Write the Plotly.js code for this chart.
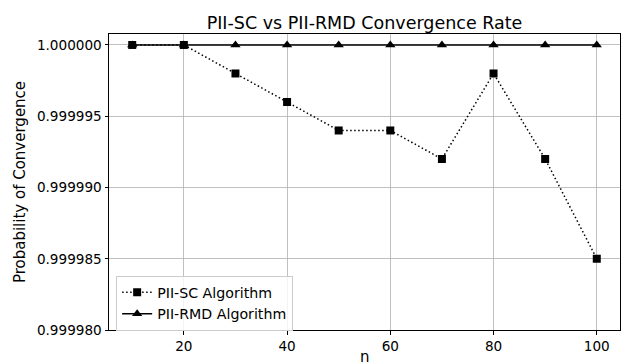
<!DOCTYPE html>
<html><head><meta charset="utf-8">
<script src="https://cdn.plot.ly/plotly-3.0.1.min.js"></script>
<style>html,body{margin:0;padding:0;background:#fff}#chart{width:623px;height:362px}</style>
</head><body><div id="chart"></div>
<script>
const nValues = [10, 20, 30, 40, 50, 60, 70, 80, 90, 100];
const sc = [1.000000, 1.000000, 0.999998, 0.999996, 0.999994, 0.999994, 0.999992, 0.999998, 0.999992, 0.999985];
const rmd = [1.000000, 1.000000, 1.000000, 1.000000, 1.000000, 1.000000, 1.000000, 1.000000, 1.000000, 1.000000];
const xTicks = [20, 40, 60, 80, 100];
const yTicks = [0.99998, 0.999985, 0.99999, 0.999995, 1.0];

const font = 'DejaVu Sans, sans-serif';
const traces = [
  {x: nValues, y: sc, name: 'PII-SC Algorithm', mode: 'lines+markers', type: 'scatter',
   line: {color: '#000', width: 1.5, dash: '1.5px,2.5px'},
   marker: {symbol: 'square', size: 8, color: '#000'}},
  {x: nValues, y: rmd, name: 'PII-RMD Algorithm', mode: 'lines+markers', type: 'scatter',
   line: {color: '#000', width: 1.5},
   marker: {symbol: 'triangle-up', size: 9, color: '#000'}}
];
const layout = {
  width: 623, height: 362,
  margin: {l: 109, r: 3, t: 34, b: 32},
  paper_bgcolor: '#fff', plot_bgcolor: '#fff',
  font: {family: font, color: '#000', size: 13.6},
  title: {text: 'PII-SC vs PII-RMD Convergence Rate', font: {family: font, size: 17.5, color: '#000'},
          x: 0.5, xref: 'paper', xanchor: 'center', y: 1, yref: 'paper', yanchor: 'bottom', pad: {b: 5}},
  xaxis: {range: [5.5, 104.5], tickvals: xTicks, ticktext: xTicks.map(String),
          showgrid: true, gridcolor: '#b0b0b0', gridwidth: 0.8,
          showline: true, linecolor: '#000', linewidth: 1, mirror: true,
          ticks: 'outside', ticklen: 3.5, tickcolor: '#000', zeroline: false,
          tickfont: {size: 13.6}},
  yaxis: {range: [0.99998, 1.00000077], tickvals: yTicks, ticktext: yTicks.map(v => v.toFixed(6)),
          showgrid: true, gridcolor: '#b0b0b0', gridwidth: 0.8,
          showline: true, linecolor: '#000', linewidth: 1, mirror: true,
          ticks: 'outside', ticklen: 3.5, tickcolor: '#000', zeroline: false,
          tickfont: {size: 13.6},
          title: {text: 'Probability of Convergence', font: {size: 15}, standoff: 7}},
  annotations: [{text: 'n', xref: 'paper', yref: 'paper', x: 0.5, y: -0.091, xanchor: 'center', yanchor: 'middle',
                 showarrow: false, font: {family: font, size: 15, color: '#000'}}],
  legend: {x: 0.014, y: -0.002, xanchor: 'left', yanchor: 'bottom',
           bgcolor: 'rgba(255,255,255,0.8)', bordercolor: '#cccccc', borderwidth: 1,
           font: {size: 14.2}, tracegroupgap: 0},
  showlegend: true
};
Plotly.newPlot('chart', traces, layout, {displayModeBar: false, staticPlot: true});
</script></body></html>
